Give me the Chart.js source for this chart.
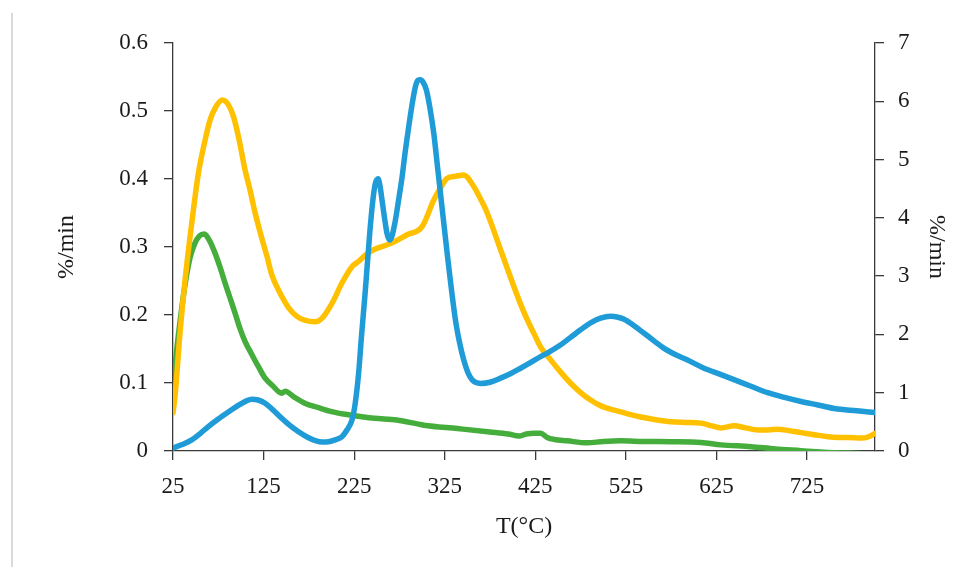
<!DOCTYPE html>
<html>
<head>
<meta charset="utf-8">
<script src="https://cdn.jsdelivr.net/npm/chart.js@4.4.1/dist/chart.umd.min.js"></script>
<style>
  html, body { margin: 0; padding: 0; background: #ffffff; }
  #wrap { position: relative; width: 972px; height: 567px; }
  #edge { position: absolute; left: 11px; top: 13px; height: 554px; border-left: 2px solid #dadada; }
  canvas { position: absolute; left: 0; top: 0; }
</style>
</head>
<body>
<div id="wrap">
  <div id="edge"></div>
  <canvas id="c" width="972" height="567"></canvas>
</div>
<script>
// Temperature tick labels on the x axis
const tempTicks = [25, 125, 225, 325, 425, 525, 625, 725];

// Yellow curve (left axis, %/min)
const tempYellow = [25, 27.2, 32.7, 38.3, 45.7, 53, 60.4, 66, 71.4, 79.5, 86.2, 91.7, 97.3, 104.6, 110, 115.7, 123, 128.6, 134.1, 143.3, 152.5, 161.8, 171, 182, 189.4, 200.5, 211.5, 222.6, 230, 237.3, 246.5, 265, 283.4, 300, 312.9, 320, 327.7, 337, 346, 357, 364, 371.9, 386.6, 401.3, 408.7, 416.1, 423.4, 430.8, 441.9, 453, 464, 475, 486, 498, 511.9, 526, 541.4, 558, 574.6, 590, 607.8, 620, 629.9, 644.6, 657, 670.5, 682, 692.6, 705, 718.4, 733, 747.9, 760, 770, 784.7, 793, 800];
const rateYellow = [0.056, 0.08, 0.173, 0.251, 0.335, 0.408, 0.457, 0.487, 0.504, 0.516, 0.509, 0.492, 0.462, 0.413, 0.384, 0.35, 0.313, 0.287, 0.259, 0.232, 0.211, 0.198, 0.192, 0.19, 0.195, 0.217, 0.247, 0.271, 0.279, 0.288, 0.296, 0.305, 0.318, 0.33, 0.369, 0.386, 0.401, 0.404, 0.406, 0.389, 0.372, 0.35, 0.296, 0.242, 0.216, 0.193, 0.173, 0.153, 0.134, 0.116, 0.0996, 0.086, 0.075, 0.066, 0.06, 0.055, 0.05, 0.046, 0.043, 0.042, 0.041, 0.037, 0.034, 0.037, 0.034, 0.031, 0.031, 0.032, 0.03, 0.027, 0.024, 0.021, 0.02, 0.02, 0.019, 0.021, 0.026];

// Green curve (left axis, %/min)
const tempGreen = [25, 30, 38, 44, 49, 54, 59.6, 65, 71.4, 77, 82.5, 88, 93.6, 99, 104.6, 112, 119.3, 126.7, 135, 145, 149, 158, 171, 185, 200, 215, 230, 247, 272, 302, 339, 375, 395, 407, 415, 424, 431, 438, 446, 460, 482, 500, 519, 545, 575, 608, 630, 663, 690, 718, 740, 755, 770, 788];
const rateGreen = [0.1, 0.16, 0.242, 0.285, 0.305, 0.316, 0.319, 0.31, 0.291, 0.27, 0.247, 0.225, 0.2025, 0.18, 0.161, 0.142, 0.124, 0.107, 0.096, 0.085, 0.088, 0.08, 0.07, 0.064, 0.058, 0.054, 0.051, 0.048, 0.0456, 0.038, 0.033, 0.028, 0.025, 0.022, 0.025, 0.026, 0.026, 0.02, 0.017, 0.015, 0.012, 0.014, 0.015, 0.014, 0.0137, 0.0125, 0.009, 0.0064, 0.003, 0.0005, -0.0015, -0.0025, -0.003, -0.004];

// Blue curve (right axis, %/min)
const tempBlue = [25, 35, 45.7, 55, 64, 75, 86.2, 98, 106, 112, 119, 126.7, 135, 145.2, 154, 163.6, 173, 182, 190, 196.7, 204, 211.5, 217, 222.6, 226, 229.9, 233, 237.3, 240, 242.8, 246, 248.4, 251.4, 253.5, 255.8, 258.5, 261.3, 264.2, 267, 270.5, 274, 277.9, 281.5, 285.2, 289, 292.6, 295.5, 298.1, 301, 304.8, 308.5, 312.9, 316.5, 320.3, 327.7, 336.8, 341.5, 346, 350.5, 355.3, 364.5, 375, 386.6, 398, 408.7, 420, 430.8, 438.2, 451, 464, 475, 486, 497, 508.2, 515, 523, 534, 545.1, 556, 567.2, 580, 593, 610, 630, 645, 663, 681.5, 700, 718.4, 737, 755, 780, 800];
const rateBlue = [0.05, 0.11, 0.19, 0.3, 0.42, 0.55, 0.67, 0.79, 0.86, 0.89, 0.875, 0.82, 0.71, 0.56, 0.44, 0.33, 0.24, 0.18, 0.155, 0.16, 0.19, 0.245, 0.36, 0.53, 0.8, 1.33, 1.95, 2.75, 3.3, 3.85, 4.35, 4.59, 4.67, 4.55, 4.3, 4.0, 3.73, 3.62, 3.7, 3.96, 4.3, 4.7, 5.15, 5.56, 5.95, 6.25, 6.36, 6.37, 6.33, 6.19, 5.9, 5.45, 4.95, 4.42, 3.39, 2.25, 1.85, 1.56, 1.35, 1.22, 1.16, 1.18, 1.25, 1.33, 1.42, 1.52, 1.62, 1.68, 1.8, 1.95, 2.08, 2.2, 2.28, 2.31, 2.3, 2.26, 2.15, 2.02, 1.89, 1.76, 1.65, 1.56, 1.43, 1.31, 1.22, 1.11, 1.0, 0.92, 0.85, 0.79, 0.73, 0.69, 0.66];

const pairs = (xs, ys) => xs.map((x, i) => ({ x: x, y: ys[i] }));

const tickFont = { family: '"Liberation Serif", "DejaVu Serif", serif', size: 23 };
const titleFont = { family: '"Liberation Serif", "DejaVu Serif", serif', size: 24 };
const ink = '#1a1a1a';
const axisInk = '#3a3a3a';

const lineStyle = {
  fill: false,
  borderWidth: 5.5,
  pointRadius: 0,
  pointHoverRadius: 0,
  cubicInterpolationMode: 'monotone',
  borderCapStyle: 'round',
  borderJoinStyle: 'round'
};

new Chart(document.getElementById('c'), {
  type: 'line',
  data: {
    datasets: [
      Object.assign({ data: pairs(tempBlue, rateBlue), borderColor: '#1f9bd7', yAxisID: 'y1', order: 0 }, lineStyle),
      Object.assign({ data: pairs(tempYellow, rateYellow), borderColor: '#ffc000', yAxisID: 'y', order: 1 }, lineStyle),
      Object.assign({ data: pairs(tempGreen, rateGreen), borderColor: '#45ad3c', yAxisID: 'y', order: 2 }, lineStyle)
    ]
  },
  options: {
    responsive: false,
    devicePixelRatio: 1,
    animation: false,
    events: [],
    layout: { padding: { left: 52, right: 21, top: 43, bottom: 26 } },
    plugins: { legend: { display: false }, tooltip: { enabled: false } },
    scales: {
      x: {
        type: 'linear',
        min: 25,
        max: 800,
        afterBuildTicks: (s) => { s.ticks = tempTicks.map(v => ({ value: v })); },
        afterFit: (s) => { s.height = 90; },
        ticks: { font: tickFont, color: ink, padding: 13, autoSkip: false, maxRotation: 0, callback: (v) => String(v) },
        grid: { drawOnChartArea: false, drawTicks: true, tickLength: 9, color: axisInk, lineWidth: 1.3 },
        border: { display: true, color: axisInk, width: 1.3 },
        title: { display: true, text: 'T(°C)', font: titleFont, color: ink, padding: { top: 0, bottom: 0 } }
      },
      y: {
        position: 'left',
        min: 0,
        max: 0.6,
        afterFit: (s) => { s.width = 121; },
        ticks: { stepSize: 0.1, font: tickFont, color: ink, padding: 16, callback: (v) => String(+v.toFixed(1)) },
        grid: { drawOnChartArea: false, drawTicks: true, tickLength: 9, color: axisInk, lineWidth: 1.3 },
        border: { display: true, color: axisInk, width: 1.3 },
        title: { display: true, text: '%/min', font: titleFont, color: ink, padding: { top: 0, bottom: 0 } }
      },
      y1: {
        position: 'right',
        min: 0,
        max: 7,
        afterFit: (s) => { s.width = 76; },
        ticks: { stepSize: 1, font: tickFont, color: ink, padding: 14, callback: (v) => String(v) },
        grid: { drawOnChartArea: false, drawTicks: true, tickLength: 9, color: axisInk, lineWidth: 1.3 },
        border: { display: true, color: axisInk, width: 1.3 },
        title: { display: true, text: '%/min', font: titleFont, color: ink, padding: { top: 0, bottom: 0 } }
      }
    }
  }
});
</script>
</body>
</html>
